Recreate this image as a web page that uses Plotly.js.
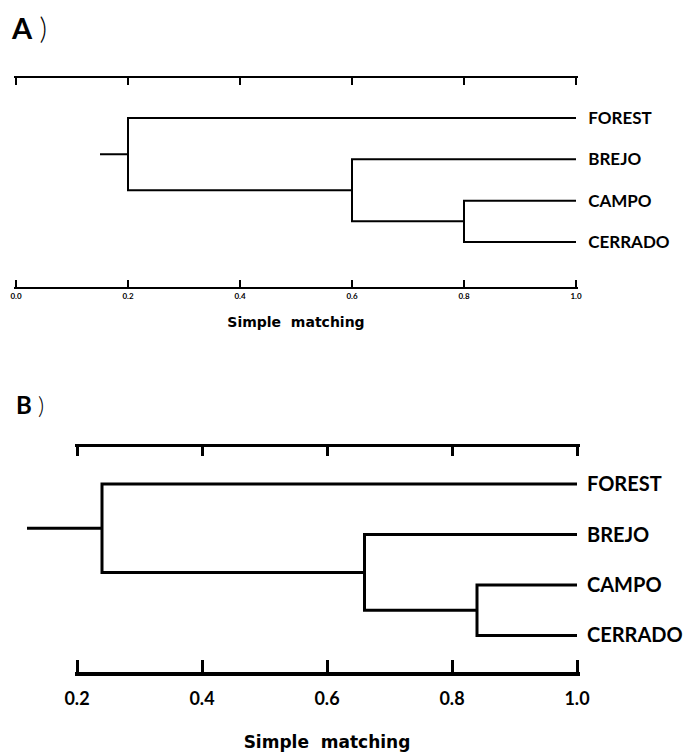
<!DOCTYPE html>
<html>
<head>
<meta charset="utf-8">
<script src="https://cdn.plot.ly/plotly-3.0.1.min.js"></script>
<style>html,body{margin:0;padding:0;background:#fff;}#chart{width:689px;height:755px;}</style>
</head>
<body>
<div id="chart"></div>
<script>
// ---------- DATA ----------
const leaves = ['FOREST', 'BREJO', 'CAMPO', 'CERRADO'];
const leafSimilarity = 1.0;
// merges: indices < 4 are leaves, 4+i is the cluster created by merge i
const mergePairs = [[2, 3], [1, 4], [0, 5]];
// Panel A (simple matching)
const heightsA = [0.80, 0.60, 0.20];
const rootStubA = 0.15;
const tickValsA = [0.0, 0.2, 0.4, 0.6, 0.8, 1.0];
const tickTextA = ['0.0', '0.2', '0.4', '0.6', '0.8', '1.0'];
// Panel B (simple matching)
const heightsB = [0.84, 0.66, 0.24];
const rootStubB = 0.12;
const tickValsB = [0.2, 0.4, 0.6, 0.8, 1.0];
const tickTextB = ['0.2', '0.4', '0.6', '0.8', '1.0'];
const axisTitle = 'Simple\u00a0 matching';

// ---------- BUILD DENDROGRAM PATHS ----------
function dendro(leafNames, pairs, heights, stub) {
  const nodes = leafNames.map((n, i) => ({ x: leafSimilarity, y: i }));
  const xs = [], ys = [];
  pairs.forEach((p, i) => {
    const a = nodes[p[0]], b = nodes[p[1]], h = heights[i];
    xs.push(a.x, h, h, b.x, null);
    ys.push(a.y, a.y, b.y, b.y, null);
    nodes.push({ x: h, y: (a.y + b.y) / 2 });
  });
  const root = nodes[nodes.length - 1];
  xs.push(root.x, stub, null);
  ys.push(root.y, root.y, null);
  return { xs, ys };
}

const dA = dendro(leaves, mergePairs, heightsA, rootStubA);
const dB = dendro(leaves, mergePairs, heightsB, rootStubB);

const W = 689, H = 755;
const px = v => v / W;
const py = v => 1 - v / H;
const FONT = 'Lato, "Liberation Sans", sans-serif';
const TFONT = '"DejaVu Sans", Lato, sans-serif';

// pixel geometry of the scales: value -> pixel = p0 + (v - v0) * k
const kA = 560, p0A = 16;     // panel A: 0.0 at 16px
const kB = 625, p0B = 77;     // panel B: 0.2 at 77px
const pad = 0.004;            // tiny range padding so end ticks are drawn
const rngA = [0 - pad, 1 + pad];
const domA = [px(p0A - pad * kA), px(p0A + (1 + pad) * kA)];
const rngB = [0.2 - pad, 1 + pad];
const domB = [px(p0B - pad * kB), px(p0B + (0.8 + pad) * kB)];
const rngB3 = [0.1, 1.0];
const domB3 = [px(p0B - 0.1 * kB), px(p0B + 0.8 * kB)];

// empty helper traces so that the scale-only axes get their subplots drawn
const axisHolder = (xa, ya) => ({ type: 'scatter', mode: 'lines', x: [], y: [], xaxis: xa, yaxis: ya,
  hoverinfo: 'skip', showlegend: false });

const traces = [
  { type: 'scatter', mode: 'lines', x: dA.xs, y: dA.ys, xaxis: 'x', yaxis: 'y',
    line: { color: '#000', width: 2 }, hoverinfo: 'skip', showlegend: false },
  { type: 'scatter', mode: 'lines', x: dB.xs, y: dB.ys, xaxis: 'x3', yaxis: 'y2',
    line: { color: '#000', width: 3 }, hoverinfo: 'skip', showlegend: false },
  axisHolder('x2', 'y'),
  axisHolder('x4', 'y2'),
  axisHolder('x5', 'y2')
];

const baseAx = { showgrid: false, zeroline: false, fixedrange: true, linecolor: '#000', tickcolor: '#000' };

const layout = {
  width: W, height: H,
  margin: { l: 0, r: 0, t: 0, b: 0 },
  paper_bgcolor: '#fff', plot_bgcolor: 'rgba(0,0,0,0)',
  showlegend: false,
  font: { family: FONT, color: '#000' },
  // Panel A
  xaxis: Object.assign({}, baseAx, {
    domain: domA, range: rngA, anchor: 'y', side: 'bottom',
    showline: true, linewidth: 2, ticks: 'inside', ticklen: 7, tickwidth: 2,
    tickvals: tickValsA, ticktext: tickTextA,
    tickfont: { size: 8, family: FONT, weight: 'bold' },
    title: { text: axisTitle, font: { size: 14, family: TFONT, weight: 'bold' }, standoff: 18 }
  }),
  xaxis2: Object.assign({}, baseAx, {
    overlaying: 'x', range: rngA, anchor: 'y', side: 'top',
    showline: true, linewidth: 2, ticks: 'inside', ticklen: 7, tickwidth: 2,
    tickvals: tickValsA, showticklabels: false
  }),
  yaxis: Object.assign({}, baseAx, {
    domain: [py(287), py(78)], range: [4.09, -0.969], anchor: 'x', side: 'right',
    showline: false, ticks: '', tickvals: [0, 1, 2, 3], ticktext: leaves,
    tickfont: { size: 17, family: FONT, weight: 'bold' }, ticklabelstandoff: 9
  }),
  // Panel B
  xaxis3: Object.assign({}, baseAx, {
    domain: domB3, range: rngB3, anchor: 'y2', visible: false
  }),
  xaxis4: Object.assign({}, baseAx, {
    domain: domB, range: rngB, anchor: 'y2', side: 'bottom',
    showline: true, linewidth: 3.5, ticks: 'inside', ticklen: 12, tickwidth: 3,
    tickvals: tickValsB, ticktext: tickTextB,
    tickfont: { size: 18, family: FONT, weight: 'bold' }, ticklabelstandoff: 8,
    title: { text: axisTitle, font: { size: 17, family: TFONT, weight: 'bold' }, standoff: 29 }
  }),
  xaxis5: Object.assign({}, baseAx, {
    overlaying: 'x4', range: rngB, anchor: 'y2', side: 'top',
    showline: true, linewidth: 3.5, ticks: 'inside', ticklen: 9, tickwidth: 3,
    tickvals: tickValsB, showticklabels: false
  }),
  yaxis2: Object.assign({}, baseAx, {
    domain: [py(672), py(447)], range: [3.723, -0.733], anchor: 'x3', side: 'right',
    showline: false, ticks: '', tickvals: [0, 1, 2, 3], ticktext: leaves,
    tickfont: { size: 20, family: FONT, weight: 'bold' }, ticklabelstandoff: 9
  }),
  annotations: [
    { xref: 'paper', yref: 'paper', x: px(9), y: py(27), xanchor: 'left', yanchor: 'middle',
      showarrow: false, text: '<b>A</b> <span style="font-weight:300">)</span>', font: { size: 29, family: FONT, color: '#000' } },
    { xref: 'paper', yref: 'paper', x: px(14), y: py(404), xanchor: 'left', yanchor: 'middle',
      showarrow: false, text: '<b>B</b> <span style="font-weight:300">)</span>', font: { size: 24, family: FONT, color: '#000' } }
  ]
};

Plotly.newPlot('chart', traces, layout, { staticPlot: true, displayModeBar: false });
</script>
</body>
</html>
